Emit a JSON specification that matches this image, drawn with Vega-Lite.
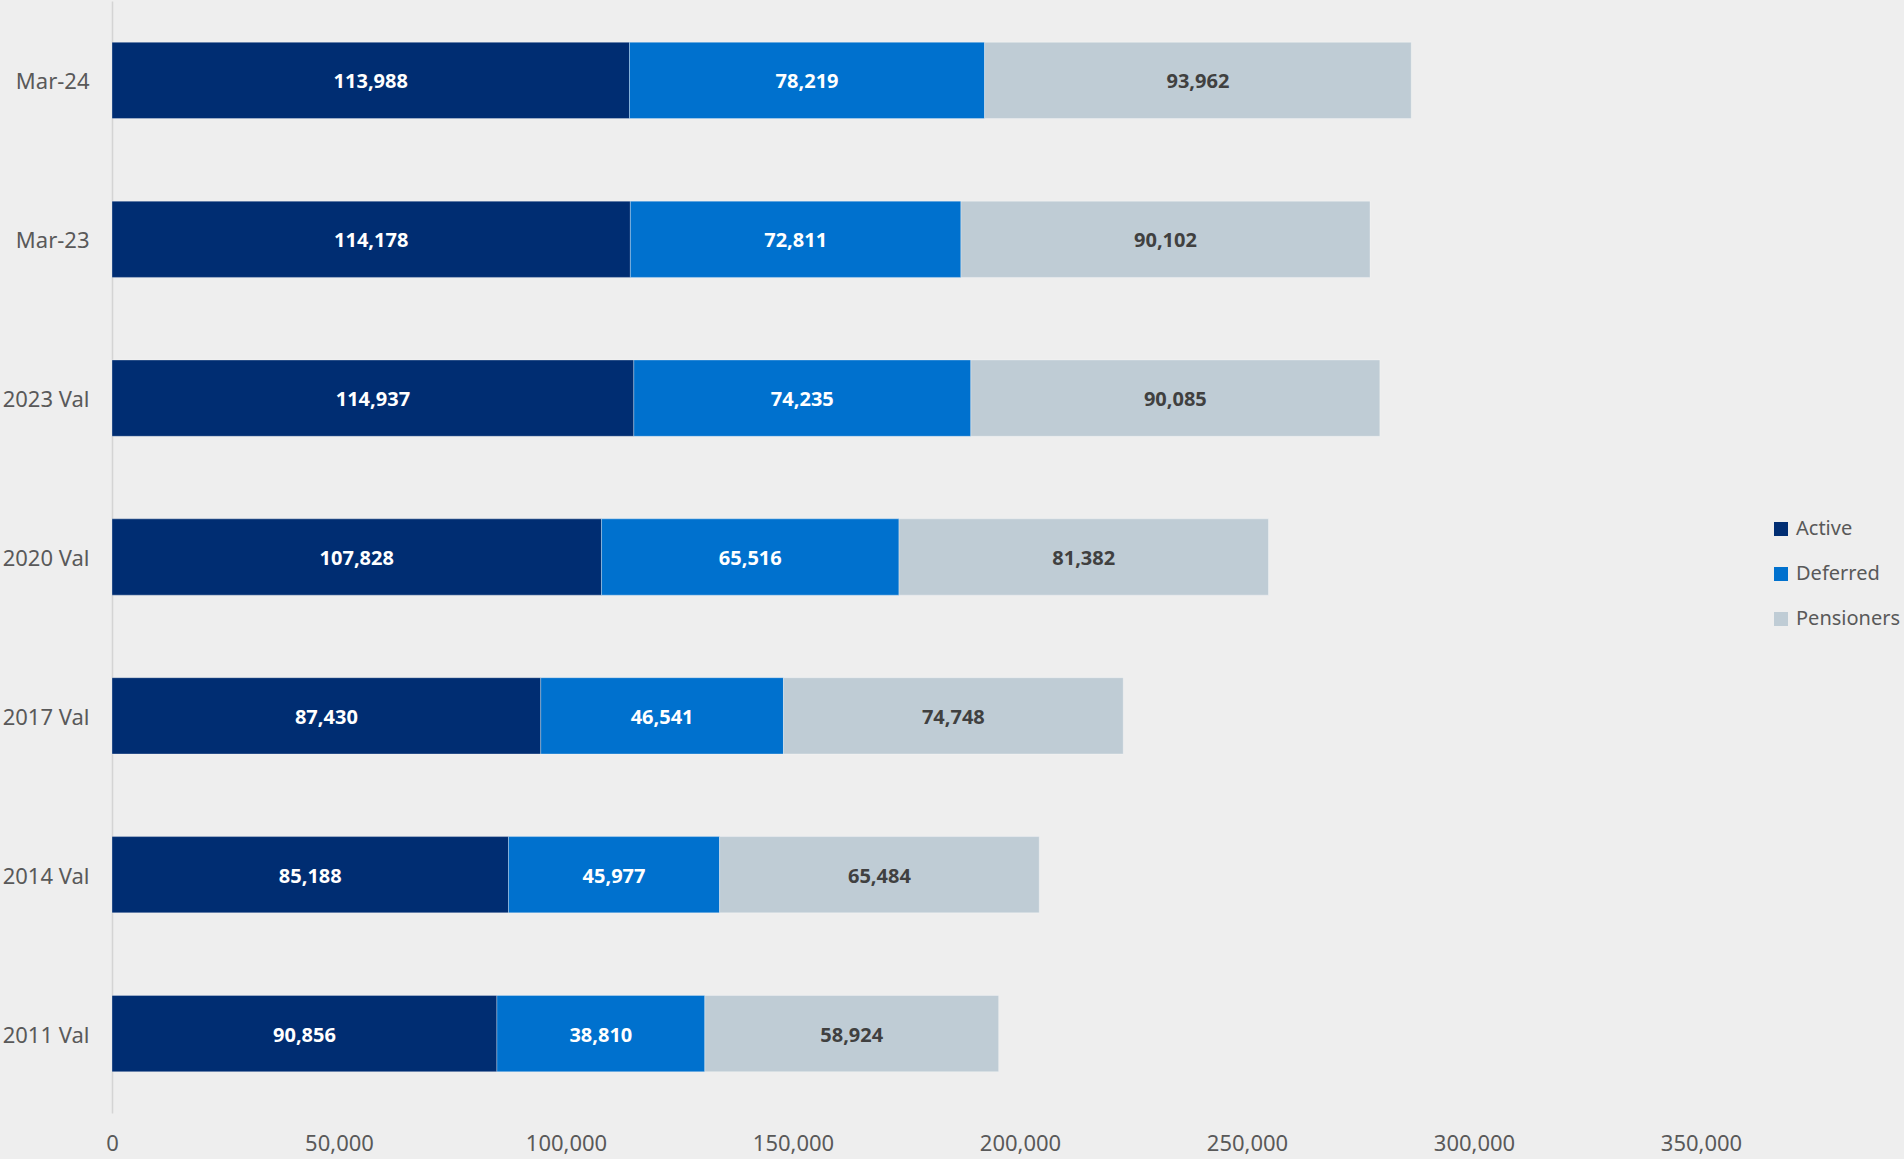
{
  "$schema": "https://vega.github.io/schema/vega-lite/v6.json",
  "autosize": {"type": "none"},
  "width": 1589,
  "height": 1112,
  "padding": {"left": 112, "top": 1, "right": 203, "bottom": 46},
  "background": "#EEEEEE",
  "config": {
    "view": {"stroke": null},
    "font": "Noto Sans"
  },
  "data": {
    "values": [
      {"period": "Mar-24", "series": "Active", "value": 113988, "label": "113,988"},
      {"period": "Mar-24", "series": "Deferred", "value": 78219, "label": "78,219"},
      {"period": "Mar-24", "series": "Pensioners", "value": 93962, "label": "93,962"},
      {"period": "Mar-23", "series": "Active", "value": 114178, "label": "114,178"},
      {"period": "Mar-23", "series": "Deferred", "value": 72811, "label": "72,811"},
      {"period": "Mar-23", "series": "Pensioners", "value": 90102, "label": "90,102"},
      {"period": "2023 Val", "series": "Active", "value": 114937, "label": "114,937"},
      {"period": "2023 Val", "series": "Deferred", "value": 74235, "label": "74,235"},
      {"period": "2023 Val", "series": "Pensioners", "value": 90085, "label": "90,085"},
      {"period": "2020 Val", "series": "Active", "value": 107828, "label": "107,828"},
      {"period": "2020 Val", "series": "Deferred", "value": 65516, "label": "65,516"},
      {"period": "2020 Val", "series": "Pensioners", "value": 81382, "label": "81,382"},
      {"period": "2017 Val", "series": "Active", "value": 94440, "label": "87,430"},
      {"period": "2017 Val", "series": "Deferred", "value": 53460, "label": "46,541"},
      {"period": "2017 Val", "series": "Pensioners", "value": 74840, "label": "74,748"},
      {"period": "2014 Val", "series": "Active", "value": 87340, "label": "85,188"},
      {"period": "2014 Val", "series": "Deferred", "value": 46490, "label": "45,977"},
      {"period": "2014 Val", "series": "Pensioners", "value": 70410, "label": "65,484"},
      {"period": "2011 Val", "series": "Active", "value": 84780, "label": "90,856"},
      {"period": "2011 Val", "series": "Deferred", "value": 45800, "label": "38,810"},
      {"period": "2011 Val", "series": "Pensioners", "value": 64720, "label": "58,924"}
    ]
  },
  "transform": [
    {"stack": "value", "groupby": ["period"], "sort": [{"field": "series", "order": "ascending"}], "as": ["x0", "x1"]}
  ],
  "encoding": {
    "y": {
      "field": "period",
      "type": "nominal",
      "sort": ["Mar-24", "Mar-23", "2023 Val", "2020 Val", "2017 Val", "2014 Val", "2011 Val"],
      "scale": {"paddingInner": 0.52, "paddingOuter": 0.26},
      "title": null,
      "axis": {
        "domain": true,
        "domainColor": "#D4D4D4",
        "domainWidth": 1.5,
        "ticks": false,
        "grid": false,
        "labelFontSize": 22,
        "labelColor": "#595959",
        "labelPadding": 23,
        "labelOffset": 2,
        "labelFont": "Noto Sans"
      }
    }
  },
  "layer": [
    {
      "mark": {"type": "bar", "stroke": "#FFFFFF", "strokeWidth": 0.6, "strokeOpacity": 0.5},
      "encoding": {
        "x": {
          "field": "x0",
          "type": "quantitative",
          "scale": {"domain": [0, 350000], "nice": false},
          "title": null,
          "axis": {
            "values": [0, 50000, 100000, 150000, 200000, 250000, 300000, 350000],
            "format": ",.0f",
            "formatType": "number",
            "domain": false,
            "ticks": false,
            "grid": false,
            "labelFontSize": 22,
            "labelColor": "#595959",
            "labelPadding": 20,
            "labelFont": "Noto Sans",
            "labelFlush": false,
            "labelOverlap": false
          }
        },
        "x2": {"field": "x1"},
        "color": {
          "field": "series",
          "type": "nominal",
          "scale": {"domain": ["Active", "Deferred", "Pensioners"], "range": ["#002D72", "#0071CE", "#BFCCD5"]},
          "legend": {
            "title": null,
            "orient": "none",
            "legendX": 1659,
            "legendY": 518,
            "symbolType": "square",
            "symbolSize": 196,
            "symbolStrokeWidth": 0,
            "labelFontSize": 20,
            "labelColor": "#595959",
            "labelFont": "Noto Sans",
            "labelOffset": 5,
            "rowPadding": 25,
            "padding": 0,
            "labelLimit": 300
          }
        }
      }
    },
    {
      "transform": [
        {"fold": ["x0", "x1"], "as": ["edge", "pos"]}
      ],
      "mark": {"type": "text", "fontWeight": "bold", "fontSize": 20, "baseline": "middle", "align": "center", "dy": 2},
      "encoding": {
        "x": {
          "field": "pos",
          "type": "quantitative",
          "aggregate": "mean",
          "stack": null,
          "title": null,
          "axis": {
            "values": [0, 50000, 100000, 150000, 200000, 250000, 300000, 350000],
            "format": ",.0f",
            "formatType": "number",
            "domain": false,
            "ticks": false,
            "grid": false,
            "labelFontSize": 22,
            "labelColor": "#595959",
            "labelPadding": 20,
            "labelFont": "Noto Sans",
            "labelFlush": false,
            "labelOverlap": false
          }
        },
        "detail": {"field": "series", "type": "nominal"},
        "text": {"field": "label", "type": "nominal"},
        "color": {
          "condition": {"test": "datum.series === 'Pensioners'", "value": "#404040"},
          "value": "#FFFFFF"
        }
      }
    }
  ]
}
